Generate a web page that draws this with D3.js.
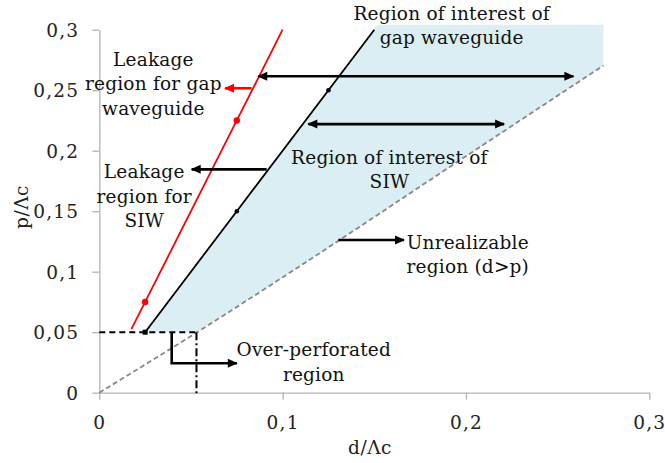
<!DOCTYPE html>
<html><head><meta charset="utf-8">
<script src="https://cdn.jsdelivr.net/npm/d3@7"></script>
<style>body{margin:0;background:#fff}</style>
</head><body>
<svg id="c" width="665" height="463"></svg>
<script>
// ---- data ----
const xTicks = [0, 0.1, 0.2, 0.3];
const xTickLabels = ["0", "0,1", "0,2", "0,3"];
const yTicks = [0, 0.05, 0.1, 0.15, 0.2, 0.25, 0.3];
const yTickLabels = ["0", "0,05", "0,1", "0,15", "0,2", "0,25", "0,3"];
// leakage limit gap waveguide (red), p = 3d
const redD = [0.0175, 0.025, 0.075, 0.1];
const redP = [0.0525, 0.075, 0.225, 0.3];
const redMarkD = [0.025, 0.075];
const redMarkP = [0.075, 0.225];
// leakage limit SIW (black), p = 2d
const blkD = [0.025, 0.075, 0.125, 0.15];
const blkP = [0.05, 0.15, 0.25, 0.3];
const blkMarkD = [0.075, 0.125];
const blkMarkP = [0.15, 0.25];
// d = p realizability limit (grey dashed)
const limD = [0, 0.0523, 0.1095, 0.1804, 0.275];
const limP = [0, 0.049, 0.1047, 0.1758, 0.2705];
// shaded region of interest
const regionD = [0.025, 0.152, 0.275, 0.275];
const regionP = [0.05, 0.304, 0.304, 0.2705];
const regionEndD = 0.053;
// over-perforation thresholds
const overP = 0.05;
const overD = 0.053;
// arrows: [d1,p1,d2,p2]
const dblArrows = [[0.0867, 0.2615, 0.2586, 0.2615], [0.114, 0.222, 0.2208, 0.222]];
const blackArrows = [[0.0913, 0.1846, 0.0504, 0.1846], [0.1304, 0.1262, 0.1662, 0.1262]];
const redArrows = [[0.0831, 0.2516, 0.0686, 0.2516]];
const bracketD = [0.0395, 0.0395, 0.075];
const bracketP = [0.05, 0.0243, 0.0243];
// labels: [text lines, d, p]
const labels = [
  [["Leakage", "region for gap", "waveguide"], 0.0295, 0.2755],
  [["Leakage", "region for", "SIW"], 0.0245, 0.1825],
  [["Region of interest of", "gap waveguide"], 0.1922, 0.3135],
  [["Region of interest of", "SIW"], 0.1582, 0.1945],
  [["Unrealizable", "region (d>p)"], 0.201, 0.1245],
  [["Over-perforated", "region"], 0.117, 0.0355]
];

// ---- drawing ----
const svg = d3.select("#c");
const FONT = "DejaVu Serif";
const x = d3.scaleLinear().domain([0, 0.3]).range([99.3, 649.3]);
const y = d3.scaleLinear().domain([0, 0.3]).range([392.7, 29.7]);

const defs = svg.append("defs");
function mk(id, color) {
  defs.append("marker").attr("id", id).attr("markerUnits", "userSpaceOnUse")
    .attr("viewBox", "0 -5 10 10").attr("refX", 9).attr("refY", 0)
    .attr("markerWidth", 12).attr("markerHeight", 10).attr("orient", "auto-start-reverse")
    .append("path").attr("d", "M0,-4.5L10,0L0,4.5Z").attr("fill", color);
}
mk("ab", "#000"); mk("ar", "#ff0000");

// region fill
const poly = regionD.map((d, i) => [d, regionP[i]]);
const limPts = limD.map((d, i) => [d, limP[i]]).filter(p => p[0] > regionEndD && p[0] < 0.275).reverse();
const fillPts = poly.concat(limPts).concat([[regionEndD, 0.05]]);
svg.append("path").attr("d", d3.line().x(p => x(p[0])).y(p => y(p[1]))(fillPts) + "Z")
  .attr("fill", "#daeef3");

// axes
const gx = svg.append("g").attr("transform", `translate(0,${y(0)})`)
  .call(d3.axisBottom(x).tickValues(xTicks).tickFormat((d, i) => xTickLabels[i]).tickSize(7).tickSizeOuter(0));
gx.selectAll("text").attr("y", 30).attr("dy", "0.36em");
const gy = svg.append("g").attr("transform", `translate(${x(0)},0)`)
  .call(d3.axisLeft(y).tickValues(yTicks).tickFormat((d, i) => yTickLabels[i]).tickSize(7).tickSizeOuter(0));
gy.selectAll("text").attr("x", -20).attr("dy", "0.36em");
[gx, gy].forEach(g => {
  g.select(".domain").attr("stroke", "#b3b3b3").attr("stroke-width", 1.3);
  g.selectAll(".tick line").attr("stroke", "#b3b3b3").attr("stroke-width", 1.3);
  g.selectAll("text").attr("font-family", FONT).attr("font-size", 18.5).attr("letter-spacing", 1.2).attr("fill", "#222");
});

// limit dashed curve
svg.append("path").datum(limD.map((d, i) => [d, limP[i]]))
  .attr("d", d3.line().x(p => x(p[0])).y(p => y(p[1])).curve(d3.curveMonotoneX))
  .attr("fill", "none").attr("stroke", "#888").attr("stroke-width", 1.8).attr("stroke-dasharray", "5,3");

// over-perforation dashed lines
svg.append("line").attr("x1", x(0)).attr("x2", x(overD)).attr("y1", y(overP)).attr("y2", y(overP))
  .attr("stroke", "#000").attr("stroke-width", 2).attr("stroke-dasharray", "6,4");
svg.append("line").attr("x1", x(overD)).attr("x2", x(overD)).attr("y1", y(overP)).attr("y2", y(0) + 1)
  .attr("stroke", "#000").attr("stroke-width", 2).attr("stroke-dasharray", "8,3,2,3");

// red line
const ln = d3.line().x(p => x(p[0])).y(p => y(p[1]));
svg.append("path").attr("d", ln(redD.map((d, i) => [d, redP[i]])))
  .attr("fill", "none").attr("stroke", "#ff0000").attr("stroke-width", 1.8);
svg.selectAll(".rm").data(redMarkD).enter().append("circle")
  .attr("cx", d => x(d)).attr("cy", (d, i) => y(redMarkP[i])).attr("r", 3.2).attr("fill", "#ff0000");
// black line
svg.append("path").attr("d", ln(blkD.map((d, i) => [d, blkP[i]])))
  .attr("fill", "none").attr("stroke", "#000").attr("stroke-width", 1.8);
svg.selectAll(".bm").data(blkMarkD).enter().append("circle")
  .attr("cx", d => x(d)).attr("cy", (d, i) => y(blkMarkP[i])).attr("r", 2.3).attr("fill", "#000");
svg.append("rect").attr("x", x(blkD[0]) - 2.5).attr("y", y(blkP[0]) - 2.5).attr("width", 5).attr("height", 5).attr("fill", "#000");

// arrows
dblArrows.forEach(a => svg.append("line").attr("x1", x(a[0])).attr("y1", y(a[1])).attr("x2", x(a[2])).attr("y2", y(a[3]))
  .attr("stroke", "#000").attr("stroke-width", 2.6).attr("marker-start", "url(#ab)").attr("marker-end", "url(#ab)"));
blackArrows.forEach(a => svg.append("line").attr("x1", x(a[0])).attr("y1", y(a[1])).attr("x2", x(a[2])).attr("y2", y(a[3]))
  .attr("stroke", "#000").attr("stroke-width", 2.6).attr("marker-end", "url(#ab)"));
redArrows.forEach(a => svg.append("line").attr("x1", x(a[0])).attr("y1", y(a[1])).attr("x2", x(a[2])).attr("y2", y(a[3]))
  .attr("stroke", "#ff0000").attr("stroke-width", 2.6).attr("marker-end", "url(#ar)"));
svg.append("path").attr("d", ln(bracketD.map((d, i) => [d, bracketP[i]])))
  .attr("fill", "none").attr("stroke", "#000").attr("stroke-width", 2.6).attr("marker-end", "url(#ab)");

// labels
labels.forEach(l => {
  const t = svg.append("text").attr("font-family", FONT).attr("font-size", 18.5).attr("letter-spacing", 0.2)
    .attr("fill", "#111").attr("text-anchor", "middle");
  l[0].forEach((s, i) => t.append("tspan").attr("x", x(l[1])).attr("y", y(l[2]) + i * 24.5).attr("dy", "0.35em").text(s));
});

// axis titles
svg.append("text").attr("x", 370).attr("y", 448).attr("dy", "0.35em").attr("text-anchor", "middle")
  .attr("font-family", FONT).attr("font-size", 18.5).attr("letter-spacing", 0.5).attr("fill", "#222").text("d/Λc");
svg.append("text").attr("transform", "translate(22,207) rotate(-90)").attr("dy", "0.35em").attr("text-anchor", "middle")
  .attr("font-family", FONT).attr("font-size", 18.5).attr("letter-spacing", 0.5).attr("fill", "#222").text("p/Λc");
</script>
</body></html>
